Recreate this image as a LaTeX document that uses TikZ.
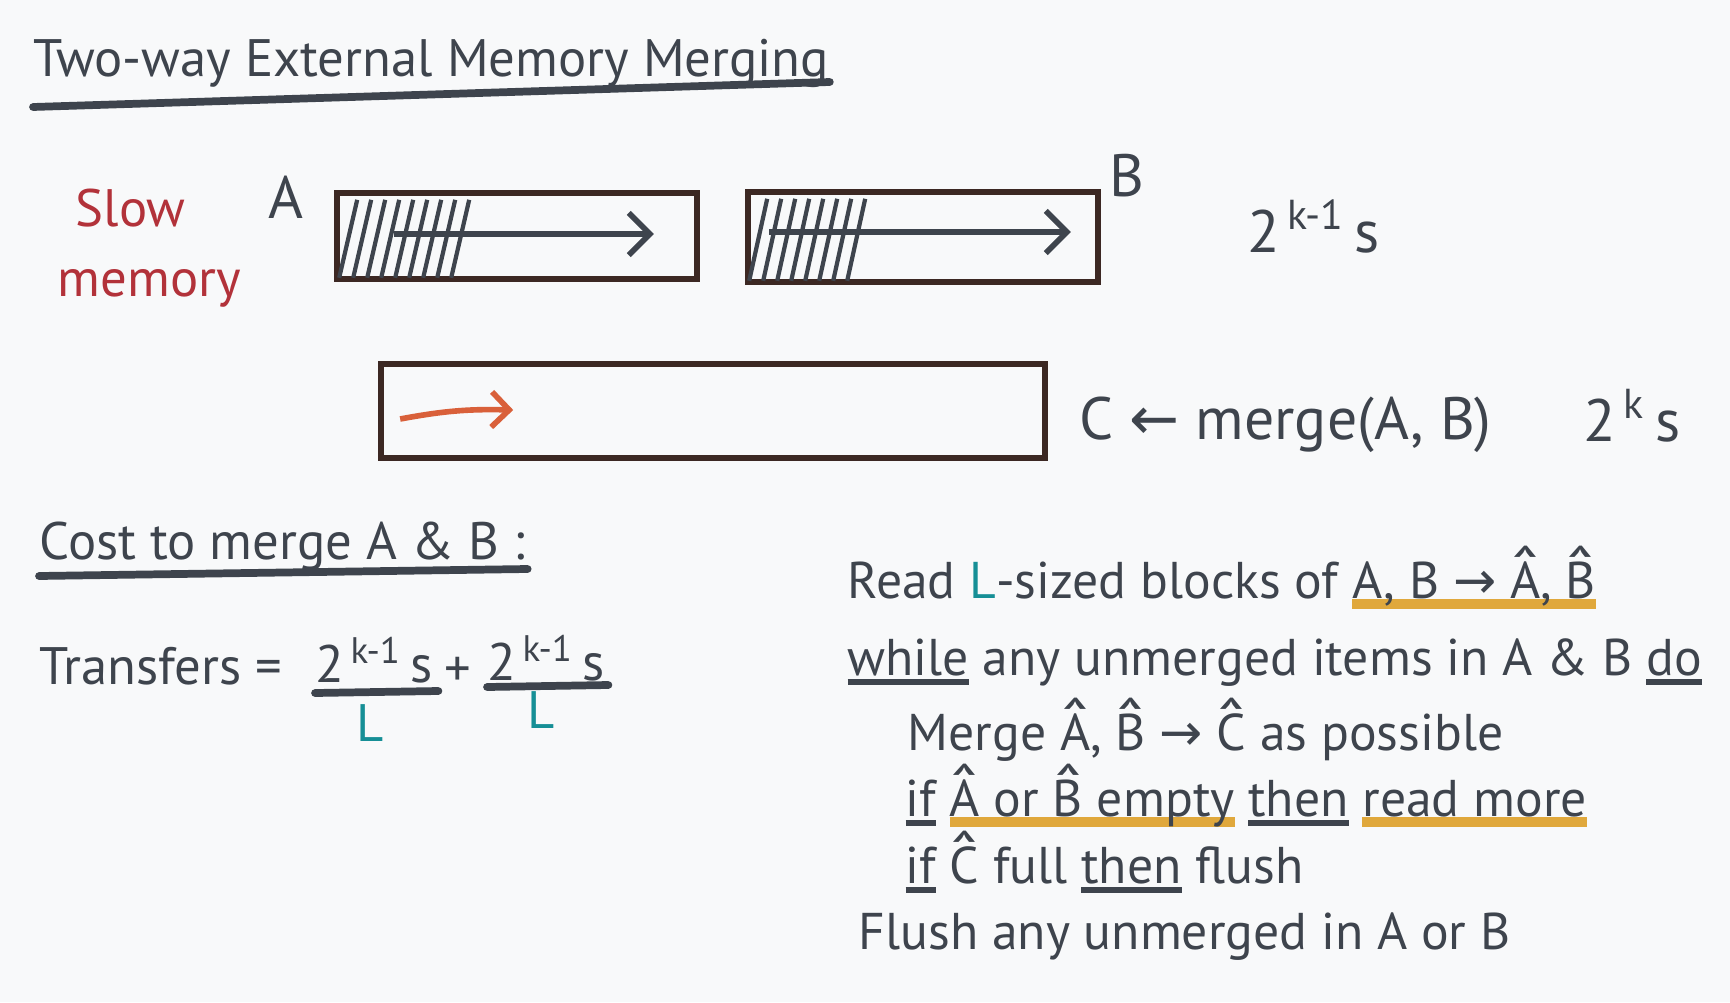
\documentclass[tikz,border=0pt]{standalone}
\usepackage{fontspec}
\setmainfont{PT Sans}
\newfontfamily\symfont{DejaVu Sans}
\usetikzlibrary{arrows.meta, positioning, calc}
\definecolor{paper}{RGB}{248, 249, 250}
\definecolor{inkgray}{RGB}{62, 68, 77}
\definecolor{slowred}{RGB}{178, 50, 58}
\definecolor{tealL}{RGB}{22, 143, 150}
\definecolor{arroworange}{RGB}{217, 96, 58}
\definecolor{hlgold}{RGB}{224, 168, 60}
\definecolor{boxbrown}{RGB}{60, 40, 35}
\newcommand{\hand}{\fontsize{14.7}{16}\selectfont}
\newcommand{\midhand}{\fontsize{15}{17}\selectfont}
\newcommand{\bighand}{\fontsize{17}{19}\selectfont}
\newcommand{\hatof}[1]{\ooalign{#1\cr\hidewidth\raisebox{0.12em}{\scalebox{1.6}[1.2]{\char"02C6}}\hidewidth\cr}}
\newcommand{\ulink}[1]{\setbox0=\hbox{#1}\rlap{\rule[-0.2em]{\wd0}{1.8pt}}\box0\relax}
\newcommand{\ulgold}[1]{\setbox0=\hbox{#1}\rlap{\textcolor{hlgold}{\rule[-0.22em]{\wd0}{3pt}}}\box0\relax}
\newcommand{\larr}{{\symfont ←}}
\newcommand{\rarr}{{\symfont →}}

\begin{document}
\begin{tikzpicture}[x=1cm, y=1cm,
  txt/.style={inner sep=0pt, anchor=base west, text=inkgray, font=\hand},
  slab/.style={draw=boxbrown, line width=1.6pt, minimum width=#1, inner sep=0pt},
  hatch/.style={inkgray, line width=1.2pt},
  fillarrow/.style={inkgray, line width=1.6pt, -{Straight Barb[length=6pt, width=12pt]}},
  inkline/.style={inkgray, line width=2.2pt, line cap=round}]
  \fill[paper] (0,0) rectangle (17.30,-10.02);

  % title
  \node[txt, font=\midhand] (title) at (0.33,-0.77) {Two-way External Memory Merging};
  \draw[inkline] ($(title.base west)+(0,-0.30)$) -- ($(title.base east)+(0,-0.05)$);

  % slow memory blocks
  \node[txt, text=slowred, font=\midhand] (slow) at (0.75,-2.26) {Slow};
  \node[txt, text=slowred, font=\midhand] (memory) at (0.57,-2.96) {memory};
  \node[txt, font=\bighand] (labA) at (2.68,-2.18) {A};
  \node[txt, font=\bighand] (labB) at (11.09,-1.96) {B};

  \node[slab=3.60cm, minimum height=0.86cm] (boxA) at (5.17,-2.36) {};
  \node[slab=3.50cm, minimum height=0.90cm] (boxB) at (9.23,-2.37) {};
  \node[slab=6.64cm, minimum height=0.94cm] (boxC) at (7.13,-4.11) {};

  \foreach \i in {0,...,8}
    \draw[hatch] ($(boxA.south west)+(0.05+\i*0.14,0.04)$) -- ++(0.18,0.78);
  \foreach \i in {0,...,7}
    \draw[hatch] ($(boxB.south west)+(0.04+\i*0.14,0.04)$) -- ++(0.18,0.82);
  \draw[fillarrow] ($(boxA.west)+(0.60,0.02)$) -- ($(boxA.east)+(-0.46,0.02)$);
  \draw[fillarrow] ($(boxB.west)+(0.24,0.05)$) -- ($(boxB.east)+(-0.30,0.05)$);
  \draw[arroworange, line width=1.6pt, -{Straight Barb[length=5pt, width=10pt]}]
    ($(boxC.west)+(0.22,-0.08)$) to[bend left=6] ($(boxC.west)+(1.35,0.01)$);

  \node[txt, font=\bighand] (sizeAB) at (12.47,-2.52) {2\textsuperscript{\,k-1}\,s};
  \node[txt, font=\bighand] (mergeC) at (10.79,-4.39) {C \larr{} merge(A, B)};
  \node[txt, font=\bighand] (sizeC) at (15.83,-4.41) {2\textsuperscript{\,k}\,s};

  % cost
  \node[txt, font=\midhand] (cost) at (0.39,-5.59) {Cost to merge A \& B :};
  \draw[inkline] ($(cost.base west)+(0,-0.17)$) -- ($(cost.base east)+(0.02,-0.10)$);
  \node[txt, font=\midhand] (transfers) at (0.39,-6.84) {Transfers =};
  \node[txt, font=\midhand] (num1) at (3.15,-6.82) {2\textsuperscript{\,k-1}\,s};
  \draw[inkline] ($(num1.base west)+(0,-0.11)$) -- ($(num1.base east)+(0.05,-0.09)$);
  \node[inner sep=0pt, anchor=base, text=tealL, font=\midhand] (den1) at (3.70,-7.41) {L};
  \node[inner sep=0pt, anchor=base, text=inkgray, font=\midhand] (plus) at (4.58,-6.86) {+};
  \node[txt, font=\midhand] (num2) at (4.87,-6.80) {2\textsuperscript{\,k-1}\,s};
  \draw[inkline] ($(num2.base west)+(0,-0.07)$) -- ($(num2.base east)+(0.03,-0.05)$);
  \node[inner sep=0pt, anchor=base, text=tealL, font=\midhand] (den2) at (5.41,-7.28) {L};

  % algorithm
  \node[txt] (read) at (8.47,-5.98) {Read \textcolor{tealL}{L}-sized blocks of \ulgold{A, B \rarr{} \hatof{A}, \hatof{B}}};
  \node[txt] (while) at (8.47,-6.75) {\ulink{while} any unmerged items in A \& B \ulink{do}};
  \node[txt] (merge) at (9.07,-7.50) {Merge \hatof{A}, \hatof{B} \rarr{} \hatof{C} as possible};
  \node[txt] (ifA) at (9.05,-8.16) {\ulink{if} \ulgold{\hatof{A} or \hatof{B} empty} \ulink{then} \ulgold{read more}};
  \node[txt] (ifC) at (9.05,-8.83) {\ulink{if} \hatof{C} full \ulink{then} flush};
  \node[txt] (flush) at (8.58,-9.49) {Flush any unmerged in A or B};
\end{tikzpicture}
\end{document}
